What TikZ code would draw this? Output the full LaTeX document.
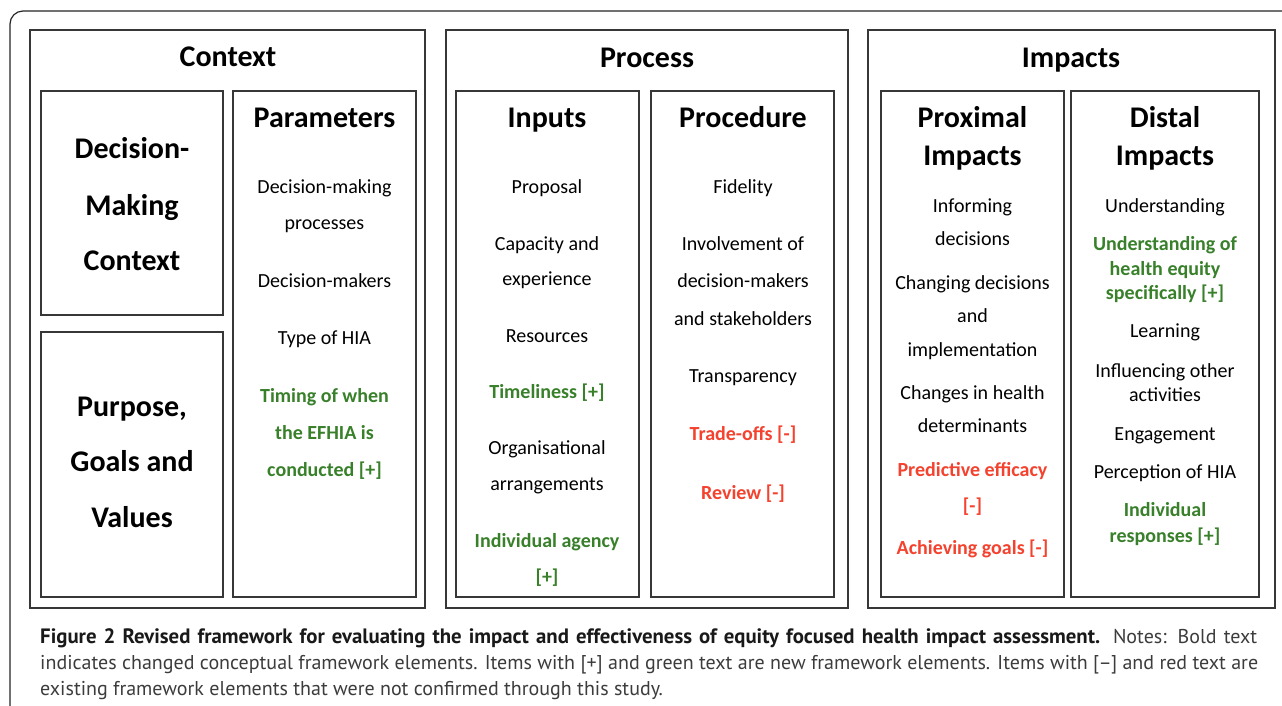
\documentclass[tikz,border=0pt]{standalone}
\usepackage{fontspec}
\setmainfont{Carlito}
\newfontfamily\capfont{PT Sans}
\definecolor{newgreen}{RGB}{56,128,42}
\definecolor{dropred}{RGB}{244,66,46}
\definecolor{boxline}{RGB}{55,55,55}
\definecolor{captext}{RGB}{60,60,60}

\begin{document}
\begin{tikzpicture}[x=1pt,y=-1pt,
  panel/.style={draw=boxline, line width=1.4pt},
  frame/.style={draw=black!85, line width=1.2pt, rounded corners=13pt},
  head/.style={font=\fontsize{30}{36}\selectfont\bfseries, inner sep=0pt,
               text height=20pt, text depth=6pt, yshift=-3pt},
  ln/.style={font=\fontsize{20}{24}\selectfont, inner sep=0pt,
             text height=13pt, text depth=4pt, yshift=-3pt},
  nw/.style={ln, font=\fontsize{20}{24}\selectfont\bfseries, text=newgreen},
  dr/.style={ln, font=\fontsize{20}{24}\selectfont\bfseries, text=dropred},
  capline/.style={anchor=base west, inner sep=0pt, text=captext,
                  font=\capfont\fontsize{20}{26}\selectfont}]

% page area
\path[fill=white] (0,0) rectangle (1282,705);
\useasboundingbox (0,0) rectangle (1282,705);

% outer frame (open to the right and bottom)
\draw[frame] (10,707) -- (10,11) -- (1284,11);

% three main panels
\draw[panel] (30,30) rectangle (425,608);
\draw[panel] (446,30) rectangle (848,608);
\draw[panel] (868,30) rectangle (1275,608);

% sub-panels
\draw[panel] (41,91) rectangle (223,315);
\draw[panel] (41,332) rectangle (223,597);
\draw[panel] (233,91) rectangle (416,597);
\draw[panel] (456,91) rectangle (639,597);
\draw[panel] (651,91) rectangle (834,597);
\draw[panel] (881,91) rectangle (1064,597);
\draw[panel] (1071,91) rectangle (1259,597);

% panel headings
\node[head] (hctx)  at (228,56)  {Context};
\node[head] (hproc) at (647,57)  {Process};
\node[head] (himp)  at (1071,57) {Impacts};

\foreach \t/\y [count=\i] in {Decision-/148, Making/205, Context/260}
  \node[head] (hdm\i) at (132,\y) {\t};
\foreach \t/\y [count=\i] in {{Purpose,}/406, Goals and/461, Values/517}
  \node[head] (hpg\i) at (132,\y) {\t};

\node[head] (hpar) at (324.5,117) {Parameters};
\node[head] (hinp) at (547,117)   {Inputs};
\node[head] (hpro) at (743,117)   {Procedure};
\node[head] (hpx1) at (972.5,117) {Proximal};
\node[head] (hpx2) at (972.5,155) {Impacts};
\node[head] (hds1) at (1165,117)  {Distal};
\node[head] (hds2) at (1165,155)  {Impacts};

% Parameters
\foreach \s/\t/\y [count=\i] in {
    ln/Decision-making/186, ln/processes/222, ln/Decision-makers/280,
    ln/Type of HIA/337, nw/Timing of when/395, nw/the EFHIA is/432,
    nw/conducted [+]/469}
  \node[\s] (par\i) at (324.5,\y) {\t};

% Inputs
\foreach \s/\t/\y [count=\i] in {
    ln/Proposal/186, ln/Capacity and/243, ln/experience/278,
    ln/Resources/335, nw/Timeliness [+]/391, ln/Organisational/447,
    ln/arrangements/483, nw/Individual agency/540, nw/[+]/576}
  \node[\s] (inp\i) at (547,\y) {\t};

% Procedure
\foreach \s/\t/\y [count=\i] in {
    ln/Fidelity/186, ln/Involvement of/243, ln/decision-makers/280,
    ln/and stakeholders/318, ln/Transparency/375, dr/Trade-offs [-]/433,
    dr/Review [-]/492}
  \node[\s] (pro\i) at (743,\y) {\t};

% Proximal impacts
\foreach \s/\t/\y [count=\i] in {
    ln/Informing/205, ln/decisions/238, ln/Changing decisions/282,
    ln/and/315, ln/implementation/349, ln/Changes in health/392,
    ln/determinants/425, dr/Predictive efficacy/469, dr/[-]/505,
    dr/Achieving goals [-]/547}
  \node[\s] (prx\i) at (972.5,\y) {\t};

% Distal impacts
\foreach \s/\t/\y [count=\i] in {
    ln/Understanding/205, nw/Understanding of/243, nw/health equity/268,
    nw/specifically [+]/292, ln/Learning/330, ln/Influencing other/370,
    ln/activities/394, ln/Engagement/433, ln/Perception of HIA/471,
    nw/Individual/509, nw/responses [+]/535}
  \node[\s] (dst\i) at (1165,\y) {\t};

% caption
\node[capline] (cap1) at (40,643) {\makebox[1217pt][s]{{\fontsize{20.8}{26}\selectfont\bfseries\color{black!90}Figure 2 Revised framework for evaluating the impact and effectiveness of equity focused health impact assessment.} Notes: Bold text}};
\node[capline] (cap2) at (40,669) {\makebox[1218pt][s]{indicates changed conceptual framework elements. Items with [+] and green text are new framework elements. Items with [–] and red text are}};
\node[capline] (cap3) at (40,695) {existing framework elements that were not confirmed through this study.};
\end{tikzpicture}
\end{document}
